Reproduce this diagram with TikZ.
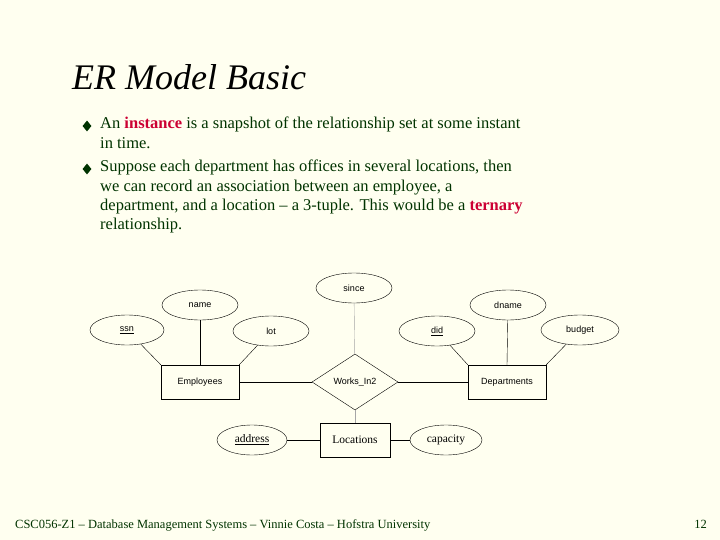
\documentclass[tikz,border=0pt]{standalone}
\usepackage{fontspec}
\setmainfont{Liberation Serif}
\newfontfamily\diag{Liberation Sans}
\usetikzlibrary{shapes.geometric}
\definecolor{bg}{HTML}{FFFFF0}
\definecolor{txt}{HTML}{003300}
\definecolor{hl}{HTML}{CC0033}
\begin{document}
\begin{tikzpicture}[x=1pt,y=-1pt,
  attr/.style={draw,ellipse,minimum width=76pt,minimum height=30pt,inner sep=0pt,font=\diag\fontsize{9}{10}\selectfont},
  attrs/.style={draw,ellipse,minimum width=70pt,minimum height=30pt,inner sep=0pt,font=\fontsize{11.5}{12}\selectfont},
  ent/.style={draw,rectangle,minimum width=78pt,minimum height=34pt,font=\diag\fontsize{9}{10}\selectfont},
  rel/.style={draw,diamond,aspect=1.55,minimum width=86pt,minimum height=56pt,inner sep=0pt,font=\diag\fontsize{9}{10}\selectfont},
  bul/.style={draw=none,fill=txt,diamond,minimum width=9pt,minimum height=11pt,inner sep=0pt},
  ln/.style={black},
  gln/.style={gray!70}]
\fill[bg] (0,0) rectangle (720,540);
\useasboundingbox (0,0) rectangle (720,540);
\node[anchor=base west,font=\itshape\fontsize{36}{40}\selectfont,inner sep=0pt] (title) at (72,90) {ER Model Basic};
\node[bul] (b1) at (87,126) {};
\node[bul] (b2) at (87,169) {};
\node[anchor=north west,inner sep=0pt,text=txt,align=left,font=\fontsize{16.5}{19.3}\selectfont] (t1) at (100,117)
 {An \textcolor{hl}{\textbf{instance}} is a snapshot of the relationship set at some instant\\ in time.};
\node[anchor=north west,inner sep=0pt,text=txt,align=left,font=\fontsize{16.5}{19.3}\selectfont] (t2) at (100,160)
 {Suppose each department has offices in several locations, then\\ we can record an association between an employee, a\\ department, and a location -- a 3-tuple. This would be a \textcolor{hl}{\textbf{ternary}}\\ relationship.};
% diagram
\node[attr] (since) at (354,288) {since};
\node[attr] (name) at (200,305) {name};
\node[attr,minimum width=74pt] (ssn) at (127,330) {\underline{ssn}};
\node[attr] (lot) at (271,331) {lot};
\node[attr] (did) at (437,331) {\underline{did}};
\node[attr] (dname) at (508,305) {dname};
\node[attr,minimum width=78pt] (budget) at (580,330) {budget};
\node[ent] (emp) at (200,382) {Employees};
\node[rel] (works) at (355,382) {Works\_In2};
\node[ent] (dep) at (507,382) {Departments};
\node[ent,minimum width=70pt,font=\fontsize{11.5}{12}\selectfont] (loc) at (355,440) {Locations};
\node[attrs] (addr) at (252,440) {\underline{address}};
\node[attrs,minimum width=72pt] (cap) at (446,440) {capacity};
\draw[ln] (ssn) -- (emp.north west);
\draw[ln] (name) -- (emp.north);
\draw[ln] (lot) -- (emp.north east);
\draw[ln] (did) -- (dep.north west);
\draw[ln] (dname) -- (dep.north);
\draw[ln] (budget) -- (dep.north east);
\draw[ln] (emp) -- (works);
\draw[ln] (works) -- (dep);
\draw[gln] (since) -- (works);
\draw[gln] (works) -- (loc);
\draw[ln] (addr) -- (loc);
\draw[ln] (loc) -- (cap);
\node[anchor=base west,inner sep=0pt,text=txt,font=\fontsize{12.5}{13}\selectfont] (foot) at (15,528) {CSC056-Z1 -- Database Management Systems -- Vinnie Costa -- Hofstra University};
\node[anchor=base east,inner sep=0pt,text=txt,font=\fontsize{12.5}{13}\selectfont] (pg) at (707,528) {12};
\end{tikzpicture}
\end{document}
